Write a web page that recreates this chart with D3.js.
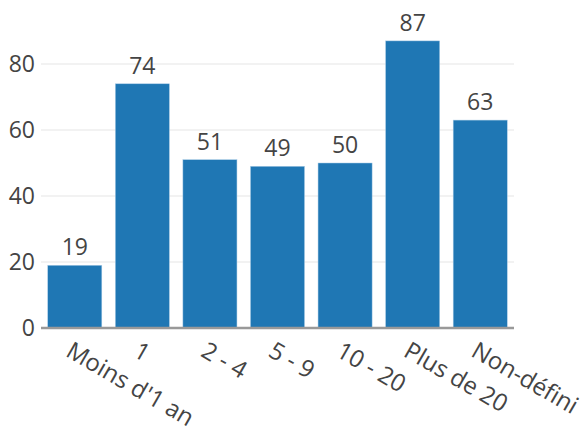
<!DOCTYPE html>
<html>
<head>
<meta charset="utf-8">
<script src="https://cdn.jsdelivr.net/npm/d3@7"></script>
<style>
  body { margin: 0; background: #fff; }
  svg { display: block; }
</style>
</head>
<body>
<svg id="chart" width="588" height="435"></svg>
<script>
const categories = ['Moins d\'1 an', '1', '2 - 4', '5 - 9', '10 - 20', 'Plus de 20', 'Non-défini']
const values = [19, 74, 51, 49, 50, 87, 63]
const yTicks = [0, 20, 40, 60, 80]

const width = 588, height = 435
const margin = { left: 41, right: 74 }
const font = '"Open Sans", "DejaVu Sans", sans-serif'
const fontSize = '23px'

const svg = d3.select('#chart')

const x = d3.scaleBand()
  .domain(categories)
  .range([margin.left, width - margin.right])
  .paddingInner(0.2)
  .paddingOuter(0.1)

// zero line sits at y=328, the 80 gridline at y=64
const y = d3.scaleLinear()
  .domain([0, 80])
  .range([328, 64])

// grid lines
svg.append('g')
  .selectAll('line')
  .data(yTicks.filter(d => d !== 0))
  .join('line')
  .attr('x1', margin.left)
  .attr('x2', width - margin.right)
  .attr('y1', d => y(d))
  .attr('y2', d => y(d))
  .attr('stroke', '#eee')
  .attr('stroke-width', 1.5)

// bars
svg.append('g')
  .selectAll('rect')
  .data(values)
  .join('rect')
  .attr('x', (d, i) => x(categories[i]))
  .attr('width', x.bandwidth())
  .attr('y', d => y(d))
  .attr('height', d => y(0) - y(d))
  .attr('fill', '#1f77b4')
  .attr('stroke', '#a9cbe6')
  .attr('stroke-width', 0.5)

// value labels
svg.append('g')
  .selectAll('text')
  .data(values)
  .join('text')
  .attr('x', (d, i) => x(categories[i]) + x.bandwidth() / 2)
  .attr('y', d => y(d) - 10)
  .attr('text-anchor', 'middle')
  .style('font-family', font)
  .style('font-size', fontSize)
  .style('fill', '#444')
  .text(d => d)

// zero line
svg.append('line')
  .attr('x1', margin.left)
  .attr('x2', width - margin.right)
  .attr('y1', y(0))
  .attr('y2', y(0))
  .attr('stroke', '#999')
  .attr('stroke-width', 2.5)

// y axis labels
const yAxis = d3.axisLeft(y).tickValues(yTicks).tickSize(0).tickPadding(6)
svg.append('g')
  .attr('transform', `translate(${margin.left},0)`)
  .call(yAxis)
  .call(g => g.select('.domain').remove())
  .selectAll('text')
  .style('font-family', font)
  .style('font-size', fontSize)
  .style('fill', '#444')

// x axis labels, rotated
svg.append('g')
  .selectAll('text')
  .data(categories)
  .join('text')
  .attr('transform', d => `translate(${x(d) + x.bandwidth() / 2 - 2},${y(0) + 13}) rotate(30)`)
  .attr('dy', '0.7em')
  .attr('text-anchor', 'start')
  .style('font-family', font)
  .style('font-size', '24px')
  .style('fill', '#444')
  .text(d => d)
</script>
</body>
</html>
